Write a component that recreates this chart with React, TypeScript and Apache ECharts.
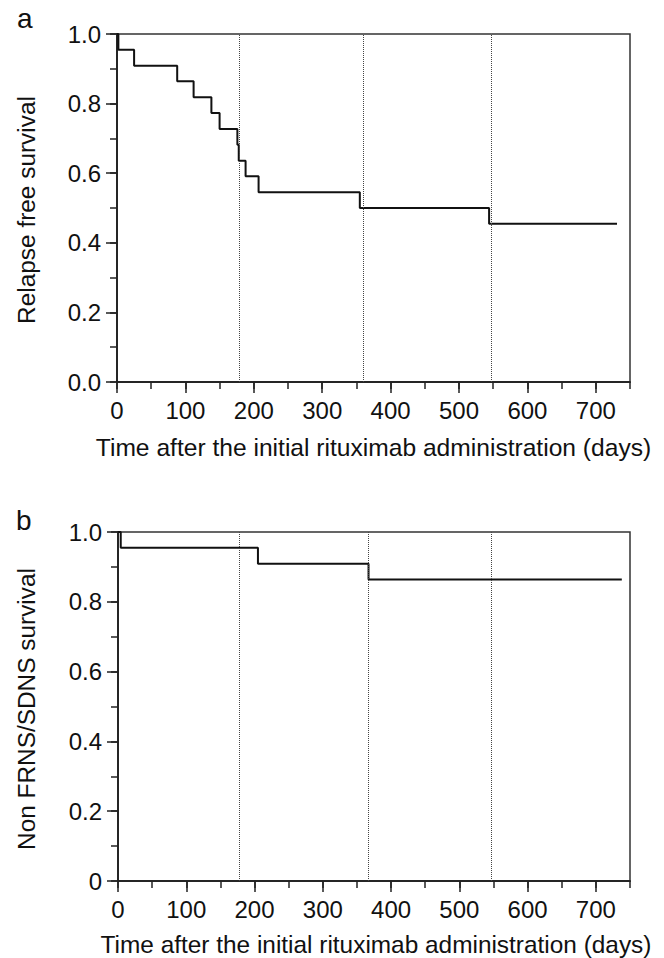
import React, { useEffect, useRef } from "react";
import * as echarts from "echarts";

// Panel a: Relapse free survival (Kaplan-Meier steps)
const topTimes = [0, 2, 25, 88, 112, 138, 150, 176, 178, 188, 207, 355, 544, 731];
const topSurv = [1, 0.955, 0.909, 0.864, 0.818, 0.773, 0.727, 0.682, 0.636, 0.591, 0.545, 0.5, 0.455, 0.455];
const topDotted = [178, 360, 547];

// Panel b: Non FRNS/SDNS survival
const bottomTimes = [0, 4, 205, 367, 738];
const bottomSurv = [1, 0.955, 0.909, 0.864, 0.864];
const bottomDotted = [178, 367, 547];

const xMajorTicks = [0, 100, 200, 300, 400, 500, 600, 700];
const xMinorTicks = [0, 50, 100, 150, 200, 250, 300, 350, 400, 450, 500, 550, 600, 650, 700, 750];
const yMajorTicks = [0, 0.2, 0.4, 0.6, 0.8, 1.0];
const yMinorTicks = [0, 0.1, 0.2, 0.3, 0.4, 0.5, 0.6, 0.7, 0.8, 0.9, 1.0];

const xTitle = "Time after the initial rituximab administration (days)";
const topYTitle = "Relapse free survival";
const bottomYTitle = "Non FRNS/SDNS survival";

const FONT = '"Liberation Sans", Arial, sans-serif';
const AX = "#222";

function xAxes(gridIndex: number) {
  const base = {
    type: "value" as const,
    gridIndex,
    min: 0,
    max: 750,
    position: "bottom" as const,
    splitLine: { show: false },
    axisLine: { show: true, onZero: false, lineStyle: { color: AX, width: 1.5 } },
  };
  return [
    {
      ...base,
      axisTick: { show: true, length: 11, customValues: xMajorTicks, lineStyle: { color: AX, width: 1.5 } },
      axisLabel: {
        show: true,
        customValues: xMajorTicks,
        margin: 16,
        fontSize: 24,
        fontFamily: FONT,
        color: "#111",
      },
    },
    {
      ...base,
      axisTick: { show: true, length: 7, customValues: xMinorTicks, lineStyle: { color: AX, width: 1.5 } },
      axisLabel: { show: false },
    },
  ];
}

function yAxes(gridIndex: number, zeroLabel: string) {
  const base = {
    type: "value" as const,
    gridIndex,
    min: 0,
    max: 1,
    position: "left" as const,
    splitLine: { show: false },
    axisLine: { show: true, onZero: false, lineStyle: { color: AX, width: 1.5 } },
  };
  return [
    {
      ...base,
      axisTick: { show: true, length: 11, customValues: yMajorTicks, lineStyle: { color: AX, width: 1.5 } },
      axisLabel: {
        show: true,
        customValues: yMajorTicks,
        margin: 16,
        fontSize: 24,
        fontFamily: FONT,
        color: "#111",
        formatter: (v: number) => (v === 0 ? zeroLabel : v.toFixed(1)),
      },
    },
    {
      ...base,
      axisTick: { show: true, length: 7, customValues: yMinorTicks, lineStyle: { color: AX, width: 1.5 } },
      axisLabel: { show: false },
    },
  ];
}

function kmSeries(times: number[], surv: number[], dotted: number[], axisIndex: number) {
  return {
    type: "line" as const,
    xAxisIndex: axisIndex,
    yAxisIndex: axisIndex,
    data: times.map((t, i) => [t, surv[i]]),
    step: "end" as const,
    symbol: "none",
    lineStyle: { color: "#111", width: 2 },
    markLine: {
      silent: true,
      symbol: ["none", "none"],
      label: { show: false },
      lineStyle: { type: "dotted" as const, color: "#444", width: 1 },
      data: dotted.map((x) => ({ xAxis: x })),
    },
  };
}

export default function App() {
  const ref = useRef<HTMLDivElement>(null);
  useEffect(() => {
    if (!ref.current) return;
    const chart = echarts.init(ref.current, undefined, { renderer: "svg" });
    const textStyle = (text: string, size: number) => ({
      text,
      font: `${size}px ${FONT}`,
      fill: "#111",
      align: "center",
      verticalAlign: "middle",
    });
    chart.setOption({
      animation: false,
      backgroundColor: "#fff",
      grid: [
        { left: 117, top: 34, width: 513, height: 348, show: true, borderColor: "#333", borderWidth: 1.5, backgroundColor: "transparent" },
        { left: 118, top: 532, width: 512, height: 349, show: true, borderColor: "#333", borderWidth: 1.5, backgroundColor: "transparent" },
      ],
      xAxis: [...xAxes(0), ...xAxes(1)],
      yAxis: [...yAxes(0, "0.0"), ...yAxes(1, "0")],
      series: [
        kmSeries(topTimes, topSurv, topDotted, 0),
        kmSeries(bottomTimes, bottomSurv, bottomDotted, 2),
      ],
      graphic: [
        { type: "text", x: 17, y: 18, style: { text: "a", font: `28px ${FONT}`, fill: "#111", align: "left", verticalAlign: "middle" } },
        { type: "text", x: 16, y: 520, style: { text: "b", font: `28px ${FONT}`, fill: "#111", align: "left", verticalAlign: "middle" } },
        { type: "text", x: 373.5, y: 447, style: textStyle(xTitle, 24.6) },
        { type: "text", x: 376, y: 944, style: textStyle(xTitle, 24.4) },
        { type: "text", x: 26, y: 210, rotation: Math.PI / 2, style: textStyle(topYTitle, 24.4) },
        { type: "text", x: 26, y: 709, rotation: Math.PI / 2, style: textStyle(bottomYTitle, 24.4) },
      ],
    });
    return () => chart.dispose();
  }, []);
  return (
    <div
      ref={ref}
      style={{ position: "absolute", left: 0, top: 0, width: 664, height: 958, background: "#fff" }}
    />
  );
}
